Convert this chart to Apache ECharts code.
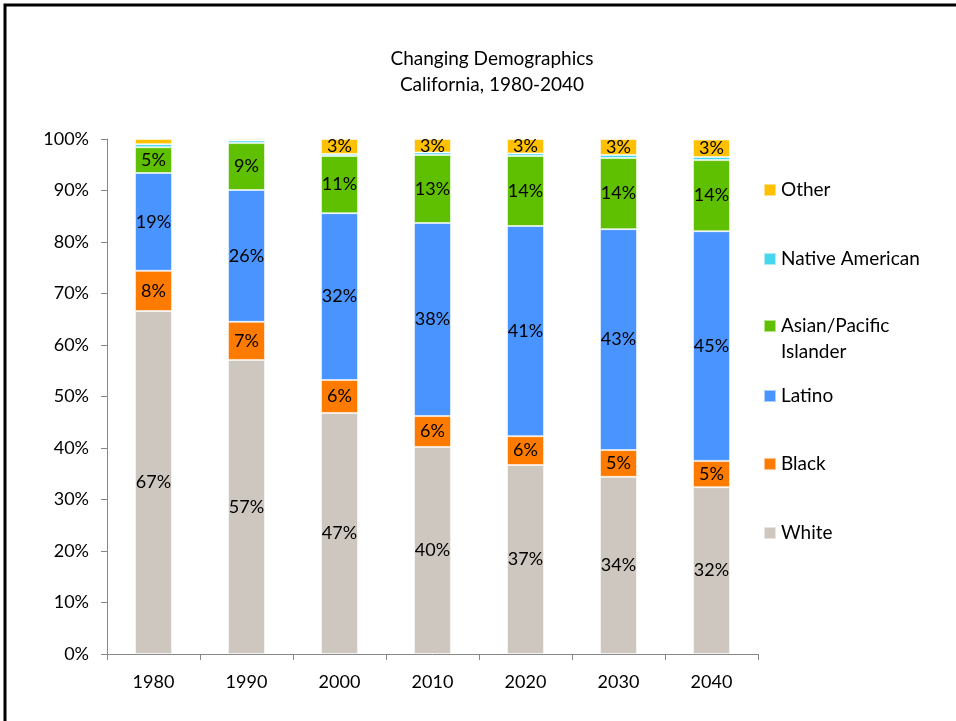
<!DOCTYPE html>
<html>
<head>
<meta charset="utf-8">
<script src="https://cdn.jsdelivr.net/npm/echarts@6/dist/echarts.min.js"></script>
<style>
  html, body { margin: 0; padding: 0; background: #fff; }
  #chart { width: 956px; height: 721px; }
</style>
</head>
<body>
<div id="chart"></div>
<script>
// data (percent of population)
const years = ['1980', '1990', '2000', '2010', '2020', '2030', '2040'];
const white = [66.6, 57.1, 46.8, 40.2, 36.7, 34.4, 32.4];
const black = [7.8, 7.4, 6.4, 6.0, 5.6, 5.2, 5.1];
const latino = [19.0, 25.6, 32.4, 37.5, 40.8, 42.9, 44.6];
const asian = [5.0, 9.1, 11.1, 13.2, 13.6, 13.8, 13.8];
const nativeAm = [0.6, 0.5, 0.4, 0.5, 0.5, 0.6, 0.6];
const other = [1.0, 0.3, 2.9, 2.6, 2.8, 3.1, 3.4];
const yTicks = [0, 10, 20, 30, 40, 50, 60, 70, 80, 90, 100];

const FONT = 'Lato';

const seriesDefs = [
  { name: 'White', data: white, color: '#cec7c0' },
  { name: 'Black', data: black, color: '#ff7b00' },
  { name: 'Latino', data: latino, color: '#4a94ff' },
  { name: 'Asian/Pacific Islander', data: asian, color: '#5ec000' },
  { name: 'Native American', data: nativeAm, color: '#47d7ec' },
  { name: 'Other', data: other, color: '#ffc000' },
];

const chart = echarts.init(document.getElementById('chart'));

const series = seriesDefs.map((s) => ({
  name: s.name,
  type: 'bar',
  stack: 'total',
  barWidth: 37,
  data: s.data,
  itemStyle: { color: s.color, borderColor: 'rgba(255,255,255,0.55)', borderWidth: 1 },
  label: {
    show: true,
    position: 'inside',
    color: '#000',
    fontFamily: FONT,
    fontSize: 18,
    formatter: (p) => (p.value >= 2.5 ? Math.round(p.value) + '%' : ''),
  },
}));

// one legend per item so spacing matches the original
const legendTops = { 'Other': 180, 'Native American': 249, 'Asian/Pacific Islander': 287, 'Latino': 386, 'Black': 454, 'White': 523 };
const legends = Object.keys(legendTops).map((name) => {
  const isAsian = name === 'Asian/Pacific Islander';
  return {
    data: [name],
    left: 763,
    top: legendTops[name],
    padding: 0,
    itemWidth: 12,
    itemHeight: 12,
    itemGap: 0,
    selectedMode: false,
    icon: 'rect',
    // blank first line keeps the square beside "Asian/Pacific"
    formatter: isAsian ? '\nAsian/Pacific\nIslander' : '{name}',
    textStyle: {
      fontFamily: FONT,
      fontSize: 19,
      color: '#000',
      lineHeight: isAsian ? 26 : 20,
    },
  };
});

const option = {
  animation: false,
  title: {
    text: 'Changing Demographics\nCalifornia, 1980-2040',
    left: 487,
    top: 41,
    textAlign: 'center',
    textStyle: { fontFamily: FONT, fontSize: 19, fontWeight: 'normal', color: '#000', lineHeight: 26 },
  },
  legend: legends,
  grid: { left: 107, right: 198, top: 139, bottom: 67 },
  xAxis: {
    type: 'category',
    data: years,
    axisLine: { lineStyle: { color: '#888', width: 1 } },
    axisTick: { show: true, length: 6, lineStyle: { color: '#888' } },
    axisLabel: { color: '#000', fontFamily: FONT, fontSize: 18, margin: 19 },
  },
  yAxis: {
    type: 'value',
    min: yTicks[0],
    max: yTicks[yTicks.length - 1],
    interval: 10,
    axisLine: { show: true, lineStyle: { color: '#888', width: 1 } },
    axisTick: { show: true, length: 6, lineStyle: { color: '#888' } },
    splitLine: { show: false },
    axisLabel: { color: '#000', fontFamily: FONT, fontSize: 18, margin: 18, formatter: '{value}%' },
  },
  graphic: [
    {
      type: 'rect',
      shape: { x: 5, y: 5, width: 1000, height: 800 },
      style: { fill: 'none', stroke: '#000', lineWidth: 3 },
      silent: true,
    },
  ],
  series: series,
};

chart.setOption(option);
</script>
</body>
</html>
